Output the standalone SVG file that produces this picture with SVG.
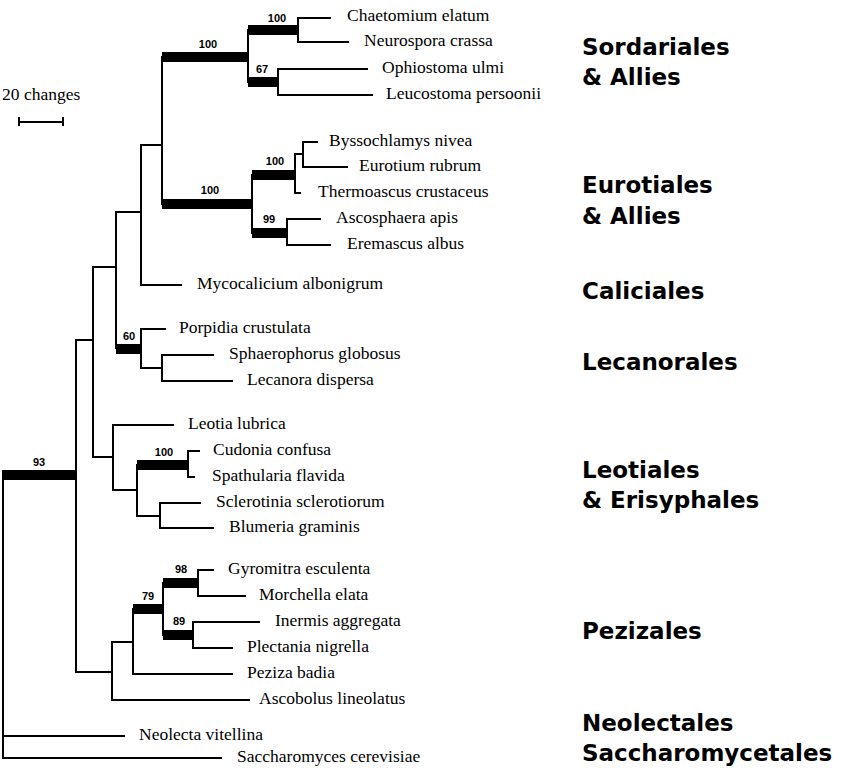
<svg xmlns="http://www.w3.org/2000/svg" width="865" height="779" viewBox="0 0 865 779">
<style>
.br{stroke:#000;stroke-width:2;fill:none;stroke-linecap:square}
.bar{fill:#000}
.tx{font-family:"Liberation Serif","Times New Roman",serif;font-size:17.5px;fill:#000}
.bs{font-family:"Liberation Sans",Arial,sans-serif;font-size:11px;font-weight:bold;text-anchor:middle;fill:#000}
.cl{font-family:"DejaVu Sans",Verdana,sans-serif;font-weight:bold;font-size:23px;fill:#000}
</style>
<rect width="865" height="779" fill="#fff"/>
<g id="connectors">
<path class="br" d="M3 475V758M76 340V672M93 267V457M116 212V348M141 145V285M162 57V204M248 30V82M298 18V42M278 69V95M252 175V233M295 154V193M303 142V167M287 219V245M141 329V368M162 355V381M113 425V490M137 465V516M188 451V477M160 503V528M112 642V700M133 609V674M163 583V635M198 570V596M193 622V648"/>
<path class="br" d="M76 340H93M93 267H116M116 212H141M141 145H162M295 154H303M141 368H162M93 457H113M113 490H137M137 516H160M76 672H112M112 642H133"/>
<path class="br" d="M298 18H330M298 42H348M278 69H367M278 95H372M303 142H317M303 167H347M295 193H300M287 219H320M287 245H330M141 285H181M141 329H165M162 355H213M162 381H232M113 425H173M188 451H199M188 477H194M160 503H200M160 528H213M198 570H213M198 596H245M193 622H259M193 648H232M133 674H232M112 700H249M3 736H124M3 758H221"/>
<rect class="bar" x="2" y="470" width="74" height="10"/>
<rect class="bar" x="162" y="52" width="86" height="10"/>
<rect class="bar" x="248" y="25" width="50" height="10"/>
<rect class="bar" x="248" y="77" width="30" height="10"/>
<rect class="bar" x="162" y="199" width="90" height="10"/>
<rect class="bar" x="252" y="170" width="43" height="10"/>
<rect class="bar" x="252" y="228" width="35" height="10"/>
<rect class="bar" x="116" y="344" width="25" height="10"/>
<rect class="bar" x="137" y="460" width="51" height="10"/>
<rect class="bar" x="133" y="604" width="30" height="10"/>
<rect class="bar" x="163" y="578" width="35" height="10"/>
<rect class="bar" x="163" y="630" width="30" height="10"/>
</g>
<g id="support">
<text class="bs" x="39" y="466">93</text>
<text class="bs" x="208" y="48">100</text>
<text class="bs" x="277" y="22">100</text>
<text class="bs" x="262" y="73">67</text>
<text class="bs" x="210" y="194">100</text>
<text class="bs" x="275" y="165">100</text>
<text class="bs" x="269" y="223">99</text>
<text class="bs" x="129" y="340">60</text>
<text class="bs" x="164" y="456">100</text>
<text class="bs" x="148" y="600">79</text>
<text class="bs" x="181" y="573">98</text>
<text class="bs" x="179" y="625">89</text>
</g>
<g id="scale">
<text class="tx" x="2" y="100">20 changes</text>
<path class="br" d="M19 122H63M19 118V125M63 118V125"/>
</g>
<g id="taxa">
<g id="t-chaetomium"><text class="tx" x="347" y="21">Chaetomium elatum</text></g>
<g id="t-neurospora"><text class="tx" x="364" y="46">Neurospora crassa</text></g>
<g id="t-ophiostoma"><text class="tx" x="382" y="73">Ophiostoma ulmi</text></g>
<g id="t-leucostoma"><text class="tx" x="386" y="99">Leucostoma persoonii</text></g>
<g id="t-byssochlamys"><text class="tx" x="329" y="146">Byssochlamys nivea</text></g>
<g id="t-eurotium"><text class="tx" x="359" y="171">Eurotium rubrum</text></g>
<g id="t-thermoascus"><text class="tx" x="318" y="197">Thermoascus crustaceus</text></g>
<g id="t-ascosphaera"><text class="tx" x="336" y="223">Ascosphaera apis</text></g>
<g id="t-eremascus"><text class="tx" x="347" y="249">Eremascus albus</text></g>
<g id="t-mycocalicium"><text class="tx" x="197" y="289">Mycocalicium albonigrum</text></g>
<g id="t-porpidia"><text class="tx" x="179" y="333">Porpidia crustulata</text></g>
<g id="t-sphaerophorus"><text class="tx" x="229" y="359">Sphaerophorus globosus</text></g>
<g id="t-lecanora"><text class="tx" x="247" y="385">Lecanora dispersa</text></g>
<g id="t-leotia"><text class="tx" x="188" y="429">Leotia lubrica</text></g>
<g id="t-cudonia"><text class="tx" x="213" y="455">Cudonia confusa</text></g>
<g id="t-spathularia"><text class="tx" x="212" y="481">Spathularia flavida</text></g>
<g id="t-sclerotinia"><text class="tx" x="216" y="507">Sclerotinia sclerotiorum</text></g>
<g id="t-blumeria"><text class="tx" x="229" y="532">Blumeria graminis</text></g>
<g id="t-gyromitra"><text class="tx" x="228" y="574">Gyromitra esculenta</text></g>
<g id="t-morchella"><text class="tx" x="259" y="600">Morchella elata</text></g>
<g id="t-inermis"><text class="tx" x="275" y="626">Inermis aggregata</text></g>
<g id="t-plectania"><text class="tx" x="247" y="652">Plectania nigrella</text></g>
<g id="t-peziza"><text class="tx" x="247" y="678">Peziza badia</text></g>
<g id="t-ascobolus"><text class="tx" x="259" y="704">Ascobolus lineolatus</text></g>
<g id="t-neolecta"><text class="tx" x="139" y="740">Neolecta vitellina</text></g>
<g id="t-saccharomyces"><text class="tx" x="237" y="762">Saccharomyces cerevisiae</text></g>
</g>
<g id="clades">
<g id="c-sordariales"><text class="cl" x="582" y="55">Sordariales</text><text class="cl" x="582" y="85">&amp; Allies</text></g>
<g id="c-eurotiales"><text class="cl" x="582" y="193">Eurotiales</text><text class="cl" x="582" y="224">&amp; Allies</text></g>
<g id="c-caliciales"><text class="cl" x="582" y="299">Caliciales</text></g>
<g id="c-lecanorales"><text class="cl" x="582" y="370">Lecanorales</text></g>
<g id="c-leotiales"><text class="cl" x="582" y="478">Leotiales</text><text class="cl" x="582" y="508">&amp; Erisyphales</text></g>
<g id="c-pezizales"><text class="cl" x="582" y="639">Pezizales</text></g>
<g id="c-neolectales"><text class="cl" x="582" y="731">Neolectales</text></g>
<g id="c-saccharomycetales"><text class="cl" x="582" y="761">Saccharomycetales</text></g>
</g>
</svg>
